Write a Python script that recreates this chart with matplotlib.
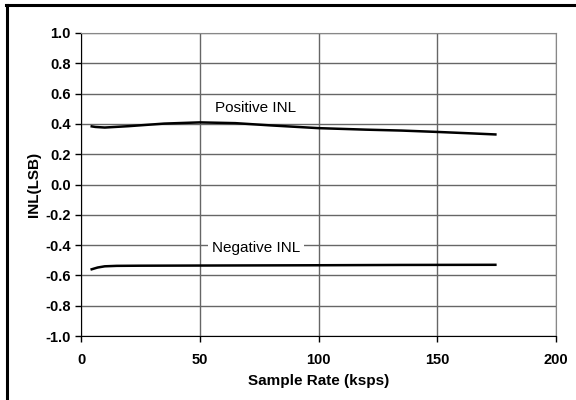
import numpy as np
import matplotlib.pyplot as plt
from matplotlib.lines import Line2D

plt.rcParams['font.family'] = ['Liberation Sans', 'DejaVu Sans']

# INL versus sample rate
rate_pos = [4, 6, 10, 20, 35, 50, 65, 80, 100, 120, 135, 150, 165, 175]
inl_pos = [0.385, 0.38, 0.376, 0.385, 0.402, 0.41, 0.405, 0.39, 0.372, 0.362, 0.356, 0.347, 0.337, 0.33]

rate_neg = [4, 7, 10, 15, 25, 50, 100, 135, 175]
inl_neg = [-0.562, -0.548, -0.54, -0.537, -0.536, -0.535, -0.533, -0.531, -0.53]

x_ticks = [0, 50, 100, 150, 200]
y_ticks = np.round(np.arange(-1.0, 1.01, 0.2), 1)

fig = plt.figure(figsize=(5.76, 4.0), dpi=100)
ax = fig.add_axes([81 / 576, 1 - 336 / 400, 475 / 576, 303 / 400])

ax.plot(rate_pos, inl_pos, color='black', lw=1.8, solid_capstyle='butt')
ax.plot(rate_neg, inl_neg, color='black', lw=1.8, solid_capstyle='butt')

ax.set_xlim(0, 200)
ax.set_ylim(-1.0, 1.0)
ax.set_xticks(x_ticks)
ax.set_yticks(y_ticks)
ax.set_yticklabels([f'{v + 0.0:.1f}' for v in y_ticks])
ax.grid(True, color='#666666', lw=1.0)
ax.set_axisbelow(True)

for s in ('top', 'right'):
    ax.spines[s].set_color('#888888')
for s in ('left', 'bottom'):
    ax.spines[s].set_color('black')
ax.tick_params(axis='both', direction='out', length=4, width=1,
               labelsize=10.5)
for lbl in ax.get_xticklabels() + ax.get_yticklabels():
    lbl.set_fontweight('bold')
ax.tick_params(axis='x', pad=8)

ax.set_xlabel('Sample Rate (ksps)', fontsize=11, fontweight='bold', labelpad=5)
ax.set_ylabel('INL(LSB)', fontsize=11, fontweight='bold', labelpad=3)

ax.text(56.5, 0.505, 'Positive INL', fontsize=11, va='center', ha='left')
ax.text(55.0, -0.42, 'Negative INL', fontsize=11, va='center', ha='left',
        bbox=dict(facecolor='white', edgecolor='none', pad=3))

# frame lines along the left and top edges
fig.add_artist(Line2D([7 / 576, 7 / 576], [0, 1 - 5 / 400], color='black', lw=2.2,
                      transform=fig.transFigure))
fig.add_artist(Line2D([6 / 576, 1], [1 - 5 / 400, 1 - 5 / 400], color='black', lw=2.2,
                      transform=fig.transFigure))

fig.savefig('out.png', dpi=100)
